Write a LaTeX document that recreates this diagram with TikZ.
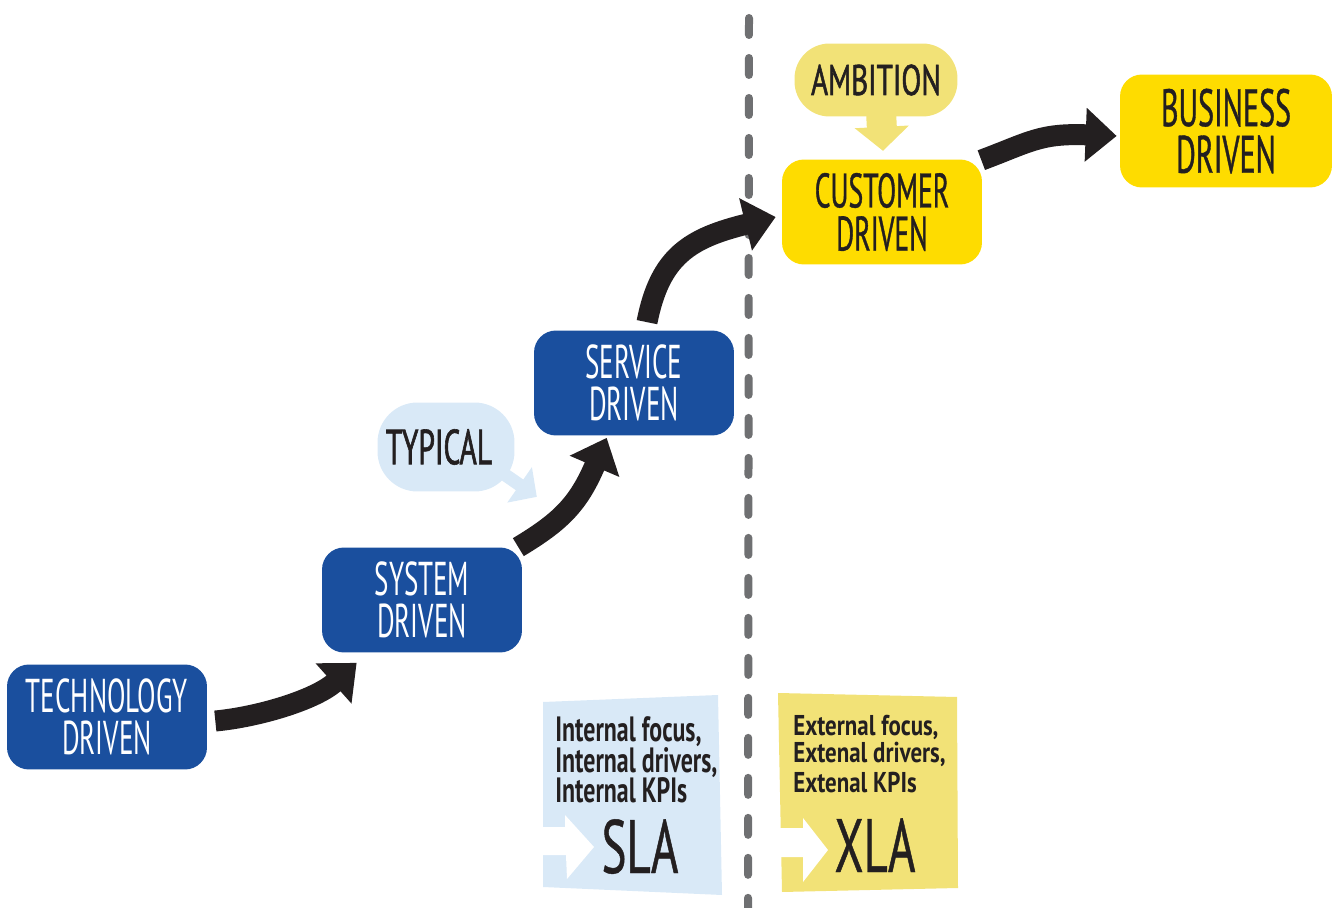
\documentclass[tikz,border=0pt]{standalone}
\usepackage{fontspec}
\usetikzlibrary{arrows.meta,calc}
% condensed faces standing in for the hand lettering
\newfontfamily\stagefont[FakeStretch=0.57]{PT Sans}
\newfontfamily\darkstagefont[FakeStretch=0.57,FakeBold=0.7]{PT Sans}
\newfontfamily\tagfont[FakeStretch=0.6,FakeBold=1.2]{PT Sans}
\newfontfamily\ambfont[FakeStretch=0.68,FakeBold=1.2]{PT Sans}
\newfontfamily\slafont[FakeStretch=0.68]{PT Sans}
\newfontfamily\xlafont[FakeStretch=0.8]{PT Sans}
\newfontfamily\bigfont[FakeStretch=0.62,FakeBold=0.6]{PT Sans}

\definecolor{boxblue}{HTML}{1A4F9E}
\definecolor{boxyellow}{HTML}{FEDC00}
\definecolor{paleyellow}{HTML}{F2E277}
\definecolor{paleblue}{HTML}{D9E9F7}
\definecolor{ink}{HTML}{231F20}
\definecolor{dashgray}{HTML}{6F7072}

\tikzset{
  stagebox/.style={rounded corners=0.44cm, inner sep=0pt, minimum width=4cm,
    minimum height=2.1cm, align=center},
  bluebox/.style={stagebox, fill=boxblue, text=white,
    font=\stagefont\fontsize{27pt}{23.5pt}\selectfont},
  yellowbox/.style={stagebox, fill=boxyellow, text=ink,
    font=\darkstagefont\fontsize{27.6pt}{24.5pt}\selectfont},
  bubble/.style={inner sep=0pt, text=ink},
  flow/.style={draw=ink, line width=0.42cm, -{Triangle[width=1.04cm,length=0.62cm]}},
  slanote/.style={anchor=base west, inner sep=0pt, text=ink,
    font=\slafont\bfseries\fontsize{20pt}{20pt}\selectfont},
  xlanote/.style={anchor=base west, inner sep=0pt, text=ink,
    font=\xlafont\bfseries\fontsize{16.3pt}{16pt}\selectfont},
  bigtag/.style={anchor=base, inner sep=0pt, text=ink,
    font=\bigfont\fontsize{43pt}{43pt}\selectfont},
}

\begin{document}
\begin{tikzpicture}[x=0.02cm, y=-0.02cm]
\useasboundingbox (0,0) rectangle (1336,908);

% divider between the internal and the external view
\draw[dashgray, line width=0.16cm, line cap=round, dash pattern=on 0.34cm off 0.46cm]
  (749,18) -- (748,908);

% maturity stages
\node[bluebox] (tech) at (107,717) {TECHNOLOGY\\DRIVEN};
\node[bluebox] (system) at (422,600) {SYSTEM\\DRIVEN};
\node[bluebox] (service) at (634,383) {SERVICE\\DRIVEN};
\node[yellowbox] (customer) at (882,212) {CUSTOMER\\DRIVEN};
\node[yellowbox, minimum width=4.24cm, minimum height=2.26cm,
  font=\darkstagefont\fontsize{30pt}{26.5pt}\selectfont] (business) at (1226,131) {BUSINESS\\DRIVEN};

% speech bubbles
\node[bubble, fill=paleblue, rounded corners=0.8cm, minimum width=2.74cm,
  minimum height=1.78cm, font=\tagfont\fontsize{28pt}{28pt}\selectfont]
  (typical) at (446,447) {\hspace*{-0.28cm}TYPICAL};
\draw[paleblue, line width=0.26cm, -{Triangle[width=0.84cm,length=0.42cm]}]
  ($(typical.south east)+(-14,-20)$) -- ($(typical.south east)+(22,5)$);

\node[bubble, fill=paleyellow, rounded corners=0.7cm, minimum width=3.26cm,
  minimum height=1.46cm, font=\ambfont\fontsize{24.4pt}{24pt}\selectfont]
  (ambition) at (876,80) {AMBITION};
\draw[paleyellow, line width=0.6cm, -{Triangle[width=1.06cm,length=0.48cm]}]
  ($(ambition.south)+(5,-6)$) -- ($(ambition.south)+(7,34)$);

% progression arrows
\draw[flow] ($(tech.east)+(8,4)$) .. controls (258,717) and (315,700) .. ($(system.south west)+(35,10)$);
\draw[flow] ($(system.north east)+(-4,0)$) .. controls (560,522) and (578,505) .. ($(service.south west)+(73,2)$);
\draw[flow] ($(service.north)+(13,-8)$) .. controls (660,256) and (690,238) .. ($(customer.west)+(-6,5)$);
\draw[flow] ($(customer.north east)+(-1,1)$) .. controls (1030,142) and (1040,133) .. ($(business.west)+(-3,5)$);

% service level panel
\fill[paleblue] (543,702) -- (718,695) -- (722,895) -- (543,887) -- cycle;
\fill[white] (538,827) -- (565,827) -- (565,815) -- (594,847) -- (567,879)
  -- (566,855) -- (538,855) -- cycle;
\node[slanote] (sla1) at (555,742) {Internal focus,};
\node[slanote] (sla2) at (555,772) {Internal drivers,};
\node[slanote] (sla3) at (555,802) {Internal KPIs};
\node[bigtag] (sla) at (640,873) {SLA};

% experience level panel
\fill[paleyellow] (778,693) -- (957,697) -- (958,888) -- (782,892) -- cycle;
\fill[white] (774,828) -- (803,828) -- (803,818) -- (828,850) -- (803,882)
  -- (803,857) -- (774,857) -- cycle;
\node[xlanote] (xla1) at (793,735) {External focus,};
\node[xlanote] (xla2) at (793,763) {Extenal drivers,};
\node[xlanote] (xla3) at (793,792) {Extenal KPIs};
\node[bigtag] (xla) at (875,872) {XLA};
\end{tikzpicture}
\end{document}
